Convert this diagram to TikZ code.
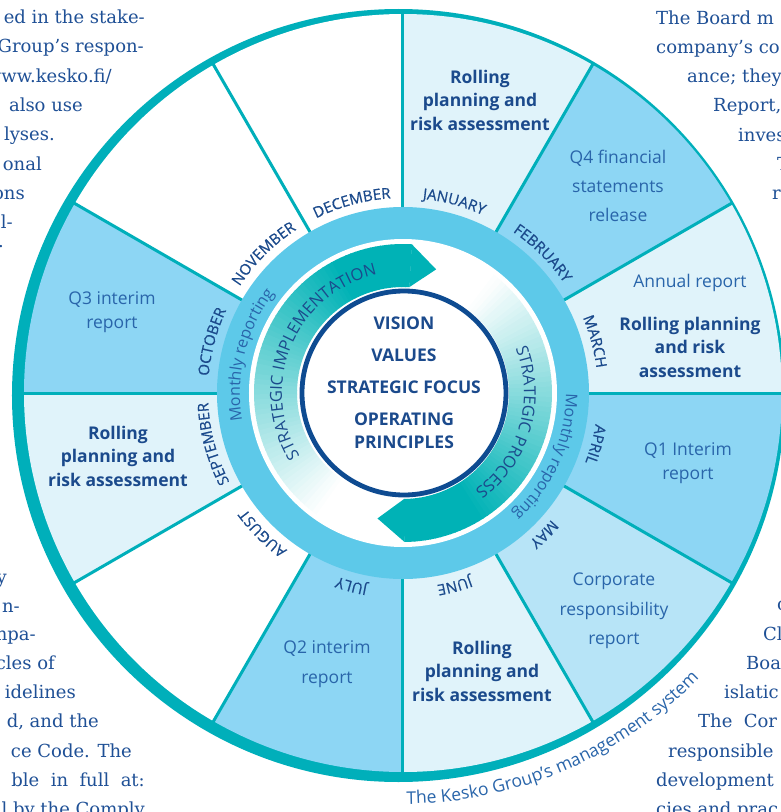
\documentclass[tikz,border=0pt]{standalone}
\usepackage{fontspec}
\usetikzlibrary{decorations.text}
\newfontfamily\wf{Open Sans}
\newfontfamily\wfm[FakeBold=0.5]{Open Sans}
\newfontfamily\bodyf{DejaVu Serif}
\definecolor{tealring}{RGB}{0,175,186}
\definecolor{arrowteal}{RGB}{0,178,182}
\definecolor{ringblue}{RGB}{93,201,233}
\definecolor{midblue}{RGB}{141,214,244}
\definecolor{lightseg}{RGB}{224,243,250}
\definecolor{mayblue}{RGB}{183,228,247}
\definecolor{navy}{RGB}{27,74,140}
\definecolor{circblue}{RGB}{14,75,145}
\definecolor{segblue}{RGB}{41,101,170}
\definecolor{bodyblue}{RGB}{31,80,150}
\newcommand\monthfmt{\wfm\fontsize{15}{15}\selectfont\color{navy}}
\newcommand\mrepfmt{\wf\fontsize{16}{16}\selectfont\color{segblue}}
\newcommand\stratfmt{\wf\fontsize{16.5}{16.5}\selectfont\color{navy}}
\newcommand\keskofmt{\wf\fontsize{17.5}{17.5}\selectfont\color{segblue}}
\tikzset{
  monthlabel/.style={decorate, decoration={text along path, text align=center, text={|\monthfmt|#1}}},
  mreplabel/.style={decorate, decoration={text along path, text align=center, text={|\mrepfmt|#1}}},
  stratlabel/.style={decorate, decoration={text along path, text align=center, text={|\stratfmt|#1}}},
  segtext/.style={font=\wf\fontsize{17.5}{24}\selectfont, text=segblue, align=center, inner sep=0pt},
  boldtext/.style={font=\wf\bfseries\fontsize{17.5}{23.5}\selectfont, text=navy, align=center, inner sep=0pt},
  bodyL/.style={font=\bodyf\fontsize{18}{18}\selectfont, text=bodyblue, anchor=base east, inner sep=0pt},
  bodyR/.style={font=\bodyf\fontsize{18}{18}\selectfont, text=bodyblue, anchor=base west, inner sep=0pt},
  divider/.style={draw=tealring, line width=3pt},
}
\begin{document}
\begin{tikzpicture}[x=1pt,y=1pt]
\useasboundingbox (-403,393) rectangle (378,-419);
\fill[white] (-403,393) rectangle (378,-419);
\clip (-403,393) rectangle (378,-419);

% body text, left column
\node[bodyL] (l1) at (-258,369) {ed in the stake-};
\node[bodyL] (l2) at (-259,340) {Group’s respon-};
\node[bodyL] (l3) at (-291,310) {www.kesko.fi/};
\node[bodyL] (l4) at (-320,281) {also use};
\node[bodyL] (l5) at (-348,253) {lyses.};
\node[bodyL] (l6) at (-361,223) {onal};
\node[bodyL] (l7) at (-378,194) {ons};
\node[bodyL] (l8) at (-390,165) {l-};
\node[bodyL] (l9) at (-399,146) {.};
\node[bodyL] (b1) at (-396,-190) {y};
\node[bodyL] (b2) at (-383,-219) {n-};
\node[bodyL] (b3) at (-367,-247) {npa-};
\node[bodyL] (b4) at (-348,-276) {cles of};
\node[bodyL] (b5) at (-327,-305) {idelines};
\node[bodyL] (b6) at (-304,-334) {d, and the};
\node[bodyL] (b7) at (-271,-364) {ce Code. The};
\node[bodyL] (b8) at (-258,-393) {ble\ \ in\ \ full\ \ at:};
\node[bodyL] (b9) at (-258,-422) {l by the Comply};
% body text, right column
\node[bodyR] (r1) at (253,368) {The Board m};
\node[bodyR] (r2) at (253,339) {company’s co};
\node[bodyR] (r3) at (284,310) {ance; they};
\node[bodyR] (r4) at (310,281) {Report,};
\node[bodyR] (r5) at (335,252) {inves};
\node[bodyR] (r6) at (374,223) {T};
\node[bodyR] (r7) at (369,194) {r};
\node[bodyR] (s1) at (374,-217) {c};
\node[bodyR] (s2) at (360,-247) {Cl};
\node[bodyR] (s3) at (343,-276) {Boa};
\node[bodyR] (s4) at (321,-305) {islatic};
\node[bodyR] (s5) at (295,-334) {The\ \ Cor};
\node[bodyR] (s6) at (265,-364) {responsible};
\node[bodyR] (s7) at (253,-393) {development};
\node[bodyR] (s8) at (253,-422) {cies and prac};

% outer teal ring
\fill[tealring] (-4.5,-2.5) circle[radius=386.5];
% month segments
\foreach \s/\c in {60/lightseg, 30/midblue, 0/lightseg, -30/midblue, -60/mayblue, -90/lightseg, -120/midblue, -150/white, 180/lightseg, 150/midblue, 120/white, 90/white}
  \fill[\c] (0,0) -- (\s:379) arc[start angle=\s, end angle=\s+30, radius=379] -- cycle;
\foreach \a in {0,30,...,330}
  \draw[divider] (\a:180) -- (\a:381);
% light blue ring and white inner disc
\fill[ringblue] (0,0) circle[radius=186];
\fill[white] (0,0) circle[radius=154];

% strategic implementation arrow (gradient)
\foreach \i in {0,...,77}{
  \pgfmathsetmacro{\a}{86.5+2*\i}
  \pgfmathtruncatemacro{\p}{max(0,min(100,100-0.85*(2*\i-30)))}
  \fill[arrowteal!\p!white] (\a:106) arc[start angle=\a, end angle=\a+2.4, radius=106] -- (\a+2.4:149) arc[start angle=\a+2.4, end angle=\a, radius=149] -- cycle;
}
\fill[arrowteal] (86.6:106) -- (86.6:149) -- (75:128) -- cycle;
% strategic process arrow (gradient)
\foreach \i in {0,...,72}{
  \pgfmathsetmacro{\a}{-89.5+2*\i}
  \pgfmathtruncatemacro{\p}{max(0,min(100,100-0.9*(2*\i-30)))}
  \fill[arrowteal!\p!white] (\a:106) arc[start angle=\a, end angle=\a+2.4, radius=106] -- (\a+2.4:149) arc[start angle=\a+2.4, end angle=\a, radius=149] -- cycle;
}
\fill[arrowteal] (-89.4:106) -- (-89.4:149) -- (-101.5:128) -- cycle;

% central circle
\draw[circblue, line width=4.8pt] (1,0) circle[radius=102];
\node[boldtext, font=\wf\bfseries\fontsize{17.5}{23}\selectfont] (core) at (1,10) {VISION\\[9pt]VALUES\\[9pt]STRATEGIC FOCUS\\[9pt]OPERATING\\PRINCIPLES};

% segment texts
\node[boldtext] (jan) at (77,293) {Rolling\\planning and\\risk assessment};
\node[segtext, font=\wf\fontsize{17.5}{29}\selectfont] (feb) at (215,207) {Q4 financial\\statements\\release};
\node[segtext] (marA) at (287,110) {Annual report};
\node[boldtext] (mar) at (287,46) {Rolling planning\\and risk\\assessment};
\node[segtext] (apr) at (285,-70) {Q1 Interim\\report};
\node[segtext, font=\wf\fontsize{17.5}{29.5}\selectfont] (may) at (211,-218) {Corporate\\responsibility\\report};
\node[boldtext] (jun) at (79,-278) {Rolling\\planning and\\risk assessment};
\node[segtext, font=\wf\fontsize{17.5}{30}\selectfont] (jul) at (-76,-271) {Q2 interim\\report};
\node[boldtext] (sep) at (-285,-63) {Rolling\\planning and\\risk assessment};
\node[segtext] (oct) at (-291,81) {Q3 interim\\report};

% month labels
\path[monthlabel=JANUARY] (90:195) arc[start angle=90, end angle=60, radius=195];
\path[monthlabel=FEBRUARY] (60:195) arc[start angle=60, end angle=30, radius=195];
\path[monthlabel=MARCH] (30:195) arc[start angle=30, end angle=0, radius=195];
\path[monthlabel=APRIL] (0:195) arc[start angle=0, end angle=-30, radius=195];
\path[monthlabel=MAY] (-30:195) arc[start angle=-30, end angle=-60, radius=195];
\path[monthlabel=JUNE] (-60:195) arc[start angle=-60, end angle=-90, radius=195];
\path[monthlabel=JULY] (-90:195) arc[start angle=-90, end angle=-120, radius=195];
\path[monthlabel=AUGUST] (-120:195) arc[start angle=-120, end angle=-150, radius=195];
\path[monthlabel=SEPTEMBER] (-150:195) arc[start angle=-150, end angle=-180, radius=195];
\path[monthlabel=OCTOBER] (180:195) arc[start angle=180, end angle=150, radius=195];
\path[monthlabel=NOVEMBER] (150:195) arc[start angle=150, end angle=120, radius=195];
\path[monthlabel=DECEMBER] (120:195) arc[start angle=120, end angle=90, radius=195];

% monthly reporting
\path[mreplabel=Monthly reporting] (196:163) arc[start angle=196, end angle=136, radius=163];
\path[mreplabel=Monthly reporting] (6:163) arc[start angle=6, end angle=-54, radius=163];

% arrow labels
\path[stratlabel=STRATEGIC IMPLEMENTATION] (225:121) arc[start angle=225, end angle=89, radius=121];
\path[stratlabel=STRATEGIC PROCESS] (40:121) arc[start angle=40, end angle=-72, radius=121];

% system caption
\path[decorate, decoration={text along path, text align=left, text={|\keskofmt|The Kesko Group’s management system}}] (-89.5:411) arc[start angle=-89.5, end angle=-30, radius=411];
\end{tikzpicture}
\end{document}
